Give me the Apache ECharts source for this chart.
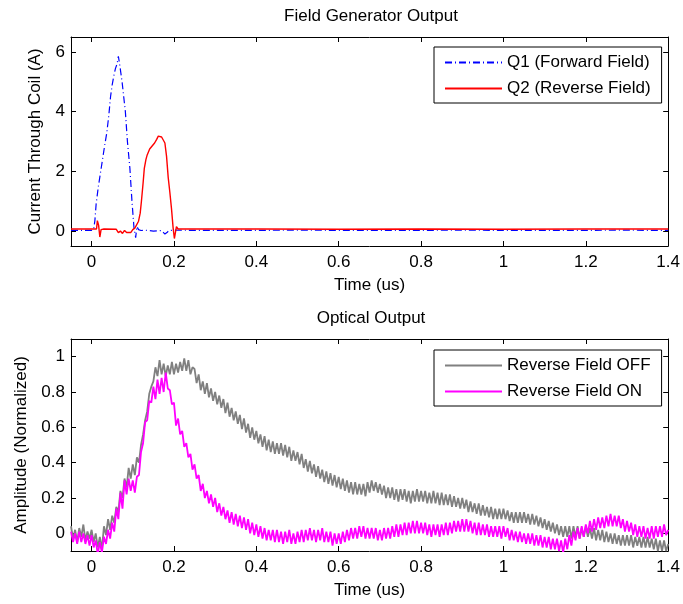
<!DOCTYPE html>
<html>
<head>
<meta charset="utf-8">
<title>Field Generator Output</title>
<script src="https://cdn.jsdelivr.net/npm/echarts@6/dist/echarts.min.js"></script>
<style>
    html, body {margin: 0; padding: 0; background: #fff;}
    #app {width: 683px; height: 604px;}
</style>
</head>
<body>
<div id="app"></div>
<script>
//tick labels
var timeTicks = [0, 0.2, 0.4, 0.6, 0.8, 1, 1.2, 1.4]
var currentTicks = [0, 2, 4, 6]
var ampTicks = [0, 0.2, 0.4, 0.6, 0.8, 1]

//Q1 (forward field), time in us / current in A
var q1Time = [-0.05, 0, 0.005, 0.008, 0.011, 0.016, 0.021, 0.026, 0.031, 0.037, 0.042, 0.046, 0.05, 0.054, 0.058, 0.062, 0.065, 0.068, 0.071, 0.074, 0.078, 0.082, 0.087, 0.093, 0.098, 0.103, 0.107, 0.11, 0.114, 0.12, 0.13, 0.15, 0.17, 0.178, 0.183, 0.188, 0.2, 0.3, 0.5, 0.7, 0.9, 1.1, 1.3, 1.4]
var q1Current = [0.02, 0.02, 0.06, 0.35, 0.9, 1.45, 1.9, 2.35, 2.8, 3.3, 3.9, 4.5, 4.9, 5.2, 5.45, 5.6, 5.85, 5.6, 5.3, 5.0, 4.5, 4.0, 3.0, 2.1, 1.0, 0.1, -0.22, 0.15, 0.05, 0.02, 0.03, 0.0, 0.02, -0.1, -0.05, 0.02, 0.03, 0.02, 0.03, 0.02, 0.03, 0.02, 0.03, 0.02]

//Q2 (reverse field)
var q2Time = [-0.05, 0.012, 0.014, 0.017, 0.02, 0.023, 0.03, 0.06, 0.065, 0.07, 0.075, 0.08, 0.085, 0.095, 0.1, 0.105, 0.109, 0.114, 0.118, 0.121, 0.125, 0.128, 0.132, 0.135, 0.141, 0.147, 0.153, 0.158, 0.162, 0.166, 0.17, 0.174, 0.178, 0.182, 0.186, 0.19, 0.194, 0.198, 0.201, 0.203, 0.206, 0.21, 0.4, 0.6, 0.8, 1.0, 1.2, 1.4]
var q2Current = [0.07, 0.07, 0.35, 0.2, -0.2, 0.05, 0.07, 0.06, -0.05, 0.0, -0.08, 0.02, -0.05, -0.05, 0.05, 0.1, 0.15, 0.33, 0.6, 1.0, 1.6, 2.1, 2.4, 2.55, 2.75, 2.85, 2.95, 3.07, 3.18, 3.23, 3.15, 3.1, 2.95, 2.5, 1.8, 1.3, 0.75, 0.1, -0.25, -0.2, 0.15, 0.07, 0.07, 0.06, 0.07, 0.06, 0.07, 0.07]

//optical output, one sample every 0.005 us from -0.05 us
var sampleStart = -0.05
var sampleStep = 0.005

var fieldOff = [
    0.04, -0.03, 0.02, -0.05, 0.03, -0.02, 0.05, -0.04, 0.01, -0.03,
    0.02, -0.05, 0.00, -0.08, -0.02, -0.09, 0.04, -0.01, 0.08, 0.02,
    0.10, 0.06, 0.15, 0.12, 0.24, 0.20, 0.31, 0.26, 0.37, 0.31,
    0.39, 0.33, 0.43, 0.40, 0.50, 0.56, 0.64, 0.69, 0.79, 0.83,
    0.86, 0.94, 0.89, 0.98, 0.90, 0.96, 0.89, 0.95, 0.90, 0.97,
    0.90, 0.96, 0.91, 0.97, 0.92, 0.99, 0.92, 0.98, 0.90, 0.94,
    0.93, 0.85, 0.90, 0.81, 0.86, 0.79, 0.85, 0.77, 0.82, 0.75,
    0.80, 0.73, 0.78, 0.71, 0.76, 0.68, 0.74, 0.66, 0.71, 0.64,
    0.69, 0.62, 0.67, 0.59, 0.65, 0.57, 0.62, 0.54, 0.60, 0.53,
    0.58, 0.51, 0.56, 0.49, 0.55, 0.47, 0.53, 0.46, 0.52, 0.45,
    0.51, 0.45, 0.51, 0.44, 0.50, 0.43, 0.49, 0.41, 0.47, 0.41,
    0.46, 0.39, 0.45, 0.37, 0.42, 0.35, 0.41, 0.34, 0.39, 0.32,
    0.38, 0.31, 0.36, 0.29, 0.35, 0.28, 0.34, 0.27, 0.33, 0.26,
    0.32, 0.25, 0.31, 0.24, 0.30, 0.23, 0.29, 0.22, 0.29, 0.22,
    0.28, 0.22, 0.28, 0.21, 0.29, 0.23, 0.30, 0.24, 0.29, 0.23,
    0.28, 0.22, 0.27, 0.20, 0.26, 0.20, 0.26, 0.19, 0.25, 0.18,
    0.25, 0.19, 0.25, 0.18, 0.24, 0.17, 0.24, 0.18, 0.25, 0.18,
    0.24, 0.18, 0.24, 0.17, 0.23, 0.17, 0.24, 0.17, 0.23, 0.16,
    0.23, 0.16, 0.22, 0.16, 0.22, 0.15, 0.21, 0.15, 0.20, 0.14,
    0.20, 0.14, 0.19, 0.12, 0.18, 0.12, 0.17, 0.11, 0.17, 0.10,
    0.16, 0.10, 0.15, 0.09, 0.15, 0.08, 0.14, 0.08, 0.14, 0.08,
    0.14, 0.08, 0.13, 0.07, 0.12, 0.06, 0.12, 0.06, 0.12, 0.06,
    0.12, 0.06, 0.11, 0.05, 0.11, 0.05, 0.10, 0.04, 0.09, 0.03,
    0.08, 0.02, 0.07, 0.01, 0.06, 0.00, 0.05, -0.01, 0.04, -0.02,
    0.04, -0.02, 0.04, -0.03, 0.04, -0.02, 0.04, -0.03, 0.03, -0.02,
    0.04, -0.02, 0.03, -0.03, 0.03, -0.04, 0.02, -0.04, 0.02, -0.05,
    0.01, -0.05, 0.00, -0.06, 0.00, -0.06, -0.01, -0.07, -0.01, -0.07,
    -0.01, -0.07, -0.01, -0.08, -0.02, -0.07, -0.02, -0.08, -0.02, -0.08,
    -0.02, -0.08, -0.03, -0.09, -0.03, -0.10, -0.04, -0.10, -0.04, -0.10,
    -0.06
]

var fieldOn = [
    0.01, -0.05, 0.00, -0.06, 0.01, -0.05, 0.00, -0.06, -0.01, -0.07,
    -0.01, -0.08, -0.04, -0.12, -0.05, -0.11, -0.02, -0.06, 0.02, -0.03,
    0.06, 0.01, 0.14, 0.08, 0.23, 0.14, 0.30, 0.22, 0.31, 0.24,
    0.30, 0.23, 0.32, 0.33, 0.46, 0.51, 0.63, 0.64, 0.75, 0.74,
    0.83, 0.76, 0.87, 0.79, 0.88, 0.80, 0.91, 0.82, 0.81, 0.73,
    0.74, 0.61, 0.65, 0.56, 0.58, 0.49, 0.51, 0.43, 0.45, 0.36,
    0.39, 0.31, 0.33, 0.24, 0.28, 0.20, 0.24, 0.17, 0.22, 0.15,
    0.20, 0.12, 0.17, 0.10, 0.15, 0.08, 0.13, 0.06, 0.12, 0.05,
    0.11, 0.04, 0.10, 0.03, 0.09, 0.02, 0.08, 0.00, 0.06, -0.01,
    0.05, -0.02, 0.04, -0.03, 0.03, -0.04, 0.02, -0.04, 0.02, -0.05,
    0.02, -0.05, 0.01, -0.06, 0.01, -0.05, 0.02, -0.06, 0.00, -0.06,
    0.01, -0.05, 0.02, -0.05, 0.02, -0.04, 0.03, -0.04, 0.02, -0.05,
    0.02, -0.04, 0.03, -0.05, 0.01, -0.05, 0.01, -0.07, 0.00, -0.06,
    0.00, -0.06, 0.01, -0.05, 0.02, -0.04, 0.03, -0.03, 0.03, -0.03,
    0.04, -0.02, 0.04, -0.03, 0.03, -0.03, 0.03, -0.03, 0.03, -0.04,
    0.02, -0.04, 0.03, -0.03, 0.03, -0.03, 0.04, -0.02, 0.05, -0.02,
    0.05, -0.01, 0.06, -0.01, 0.06, 0.00, 0.07, 0.00, 0.07, 0.00,
    0.06, 0.00, 0.06, -0.01, 0.05, -0.02, 0.05, -0.01, 0.05, -0.02,
    0.05, -0.01, 0.06, -0.01, 0.06, 0.00, 0.07, 0.01, 0.07, 0.01,
    0.08, 0.01, 0.08, 0.01, 0.07, 0.00, 0.06, -0.01, 0.06, -0.01,
    0.05, -0.01, 0.05, -0.02, 0.04, -0.02, 0.04, -0.02, 0.04, -0.03,
    0.04, -0.02, 0.03, -0.04, 0.02, -0.04, 0.01, -0.05, 0.01, -0.05,
    0.00, -0.06, 0.00, -0.06, 0.00, -0.07, -0.01, -0.07, -0.01, -0.08,
    -0.02, -0.08, -0.02, -0.09, -0.03, -0.09, -0.03, -0.10, -0.04, -0.11,
    -0.03, -0.09, -0.01, -0.07, 0.01, -0.04, 0.03, -0.03, 0.04, -0.02,
    0.05, 0.00, 0.07, 0.01, 0.08, 0.02, 0.09, 0.03, 0.09, 0.03,
    0.10, 0.04, 0.11, 0.04, 0.10, 0.04, 0.10, 0.03, 0.08, 0.01,
    0.07, 0.01, 0.06, -0.01, 0.05, -0.02, 0.04, -0.02, 0.04, -0.03,
    0.03, -0.03, 0.04, -0.03, 0.04, -0.02, 0.04, -0.02, 0.05, -0.01,
    0.02
]

var chart = echarts.init(document.getElementById('app'))

var font = {fontFamily: 'Liberation Sans', fontSize: 17, color: '#000'}

//pair x and y arrays
var pairs = (xs, ys) => ys.map((v, i) => [xs[i], v])
var sampled = (ys) => ys.map((v, i) => [sampleStart + i * sampleStep, v])

//one boxed axis pair (bottom/left with labels, top/right only ticks)
var makeX = (grid, pos, labels, name) => ({
    gridIndex: grid,
    type: 'value',
    position: pos,
    min: -0.05,
    max: 1.4,
    name: name,
    nameLocation: 'middle',
    nameGap: 31,
    nameTextStyle: font,
    axisLine: {show: true, onZero: false, lineStyle: {color: '#000', width: 1}},
    axisTick: {show: true, inside: true, length: 5, customValues: timeTicks, lineStyle: {color: '#000'}},
    axisLabel: {show: labels, margin: 8, customValues: timeTicks, fontFamily: font.fontFamily, fontSize: 17, color: '#000'},
    splitLine: {show: false}
})

var makeY = (grid, pos, labels, min, max, ticks, name, gap) => ({
    gridIndex: grid,
    type: 'value',
    position: pos,
    min: min,
    max: max,
    name: name,
    nameLocation: 'middle',
    nameGap: gap,
    nameTextStyle: font,
    axisLine: {show: true, onZero: false, lineStyle: {color: '#000', width: 1}},
    axisTick: {show: true, inside: true, length: 5, customValues: ticks, lineStyle: {color: '#000'}},
    axisLabel: {show: labels, margin: 6, customValues: ticks, fontFamily: font.fontFamily, fontSize: 17, color: '#000'},
    splitLine: {show: false}
})

var legendBox = (top, names) => ({
    orient: 'vertical',
    left: 434,
    top: top,
    data: names,
    backgroundColor: '#fff',
    borderColor: '#000',
    borderWidth: 1,
    borderRadius: 0,
    padding: [7, 11, 6, 10],
    itemWidth: 57,
    itemHeight: 18,
    itemGap: 9,
    itemStyle: {opacity: 0},
    textStyle: font,
    selectedMode: false
})

chart.setOption({
    animation: false,
    title: [
        {text: 'Field Generator Output', left: 371, top: 8, textAlign: 'center', padding: 0, textStyle: {fontFamily: font.fontFamily, fontSize: 17, fontWeight: 'normal', color: '#000'}},
        {text: 'Optical Output', left: 371, top: 310, textAlign: 'center', padding: 0, textStyle: {fontFamily: font.fontFamily, fontSize: 17, fontWeight: 'normal', color: '#000'}}
    ],
    legend: [
        legendBox(47, ['Q1 (Forward Field)', 'Q2 (Reverse Field)']),
        legendBox(350, ['Reverse Field OFF', 'Reverse Field ON'])
    ],
    grid: [
        {left: 71, right: 11, top: 37, height: 209},
        {left: 71, right: 11, top: 339, height: 212}
    ],
    xAxis: [
        makeX(0, 'bottom', true, 'Time (us)'),
        makeX(0, 'top', false, ''),
        makeX(1, 'bottom', true, 'Time (us)'),
        makeX(1, 'top', false, '')
    ],
    yAxis: [
        makeY(0, 'left', true, -0.5, 6.5, currentTicks, 'Current Through Coil (A)', 27),
        makeY(0, 'right', false, -0.5, 6.5, currentTicks, '', 0),
        makeY(1, 'left', true, -0.1, 1.1, ampTicks, 'Amplitude (Normalized)', 41),
        makeY(1, 'right', false, -0.1, 1.1, ampTicks, '', 0)
    ],
    series: [
        {
            name: 'Q1 (Forward Field)',
            type: 'line',
            xAxisIndex: 0,
            yAxisIndex: 0,
            symbol: 'none',
            showSymbol: false,
            lineStyle: {color: '#0000ff', width: 1.2, type: [7, 3, 1, 3]},
            itemStyle: {color: '#0000ff'},
            data: pairs(q1Time, q1Current)
        },
        {
            name: 'Q2 (Reverse Field)',
            type: 'line',
            xAxisIndex: 0,
            yAxisIndex: 0,
            symbol: 'none',
            showSymbol: false,
            lineStyle: {color: '#ff0000', width: 1.4},
            itemStyle: {color: '#ff0000'},
            data: pairs(q2Time, q2Current)
        },
        {
            name: 'Reverse Field OFF',
            type: 'line',
            xAxisIndex: 2,
            yAxisIndex: 2,
            symbol: 'none',
            showSymbol: false,
            lineStyle: {color: '#808080', width: 1.8},
            itemStyle: {color: '#808080'},
            data: sampled(fieldOff)
        },
        {
            name: 'Reverse Field ON',
            type: 'line',
            xAxisIndex: 2,
            yAxisIndex: 2,
            symbol: 'none',
            showSymbol: false,
            lineStyle: {color: '#ff00ff', width: 1.8},
            itemStyle: {color: '#ff00ff'},
            data: sampled(fieldOn)
        }
    ]
})
</script>
</body>
</html>
